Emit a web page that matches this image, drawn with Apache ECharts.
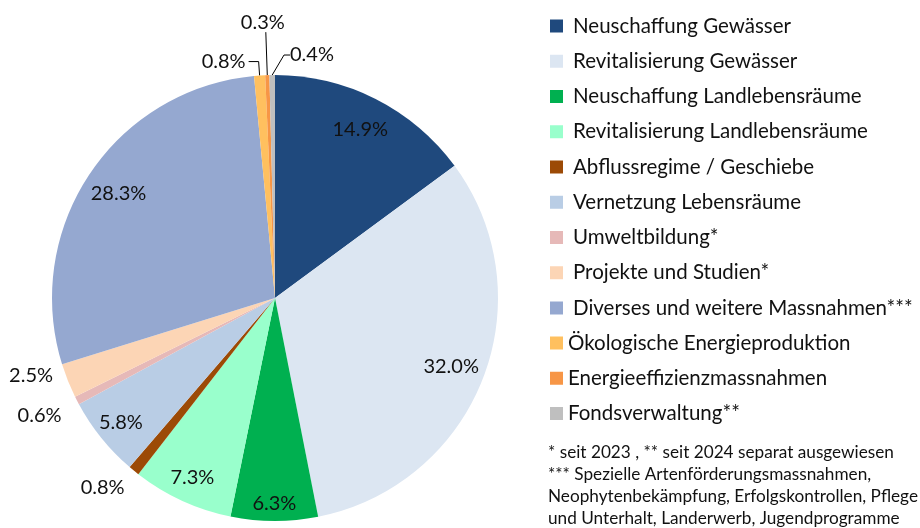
<!DOCTYPE html>
<html>
<head>
<meta charset="utf-8">
<script src="https://cdn.jsdelivr.net/npm/echarts@6/dist/echarts.min.js"></script>
<style>
  html, body { margin: 0; padding: 0; background: #fff; }
  #main { width: 920px; height: 528px; }
</style>
</head>
<body>
<div id="main"></div>
<script>
var categories = [
  'Neuschaffung Gewässer',
  'Revitalisierung Gewässer',
  'Neuschaffung Landlebensräume',
  'Revitalisierung Landlebensräume',
  'Abflussregime / Geschiebe',
  'Vernetzung Lebensräume',
  'Umweltbildung*',
  'Projekte und Studien*',
  'Diverses und weitere Massnahmen***',
  'Ökologische Energieproduktion',
  'Energieeffizienzmassnahmen',
  'Fondsverwaltung**'
];
var shares = [14.9, 32.0, 6.3, 7.3, 0.8, 5.8, 0.6, 2.5, 28.3, 0.8, 0.3, 0.4];
var colors = ['#1f497d', '#dce6f2', '#00b050', '#99ffcc', '#9c4a06', '#b9cde5',
  '#e6b9b8', '#fcd5b5', '#95a8d0', '#ffc05f', '#f79646', '#bfbfbf'];
var footnote = [
  '* seit 2023 , ** seit 2024 separat ausgewiesen',
  '*** Spezielle Artenförderungsmassnahmen,',
  'Neophytenbekämpfung, Erfolgskontrollen, Pflege',
  'und Unterhalt, Landerwerb, Jugendprogramme'
];

var font = 'Lato';
var textColor = '#111';
var center = [275, 298];
var R = 223;

// innen beschriftete Segmente: Abstand der Beschriftung vom Mittelpunkt
var innerRadius = { 0: 186, 1: 186, 8: 185, 3: 195, 5: 195, 2: 203 };

// kleine Anteile: Beschriftung aussen
var outerLabel = {
  4: { len: 10, len2: 0, line: false, dy: 9 },
  6: { len: 14, len2: 0, line: false, dy: 9 },
  7: { len: 2, len2: 10, line: false, dy: -6 },
  9: { len: 14, len2: 10, line: true },
  10: { len: 43, len2: 0, line: true },
  11: { len: 20, len2: 6, line: true }
};

var pct = function (p) { return p.value.toFixed(1) + '%'; };

var chart = echarts.init(document.getElementById('main'));

var mainData = categories.map(function (name, i) {
  var o = outerLabel[i];
  var item = { name: name, value: shares[i], itemStyle: { color: colors[i] } };
  if (o) {
    item.label = { show: true };
    item.labelLine = { show: o.line, length: o.len, length2: o.len2 };
  } else {
    item.label = { show: false };
    item.labelLine = { show: false };
  }
  return item;
});

var series = [
  {
    type: 'pie',
    center: center,
    radius: R,
    startAngle: 90,
    clockwise: true,
    avoidLabelOverlap: false,
    data: mainData,
    label: {
      position: 'outside',
      formatter: pct,
      fontFamily: font,
      fontSize: 20,
      color: textColor,
      distanceToLabelLine: 3
    },
    labelLine: { lineStyle: { color: '#000', width: 1 } },
    labelLayout: function (p) {
      var o = outerLabel[p.dataIndex];
      if (p.dataIndex === 10) return { align: 'center', verticalAlign: 'bottom' };
      if (p.dataIndex === 11) return { x: p.rect.x + p.rect.width + 15, align: 'left' };
      if (o && o.dy) return { dy: o.dy };
    },
    emphasis: { disabled: true }
  }
];

// transparente Ringe nur fuer die Innenbeschriftungen
var rings = {};
Object.keys(innerRadius).forEach(function (k) {
  var r = innerRadius[k];
  (rings[r] = rings[r] || []).push(+k);
});
Object.keys(rings).forEach(function (r) {
  var idx = rings[r];
  series.push({
    type: 'pie',
    center: center,
    radius: [2 * r - R, R],
    startAngle: 90,
    clockwise: true,
    silent: true,
    itemStyle: { color: 'rgba(0,0,0,0)' },
    data: categories.map(function (name, i) {
      return { name: name, value: shares[i], label: { show: idx.indexOf(i) >= 0 } };
    }),
    label: { position: 'inside', formatter: pct, fontFamily: font, fontSize: 20, color: textColor },
    labelLine: { show: false },
    emphasis: { disabled: true }
  });
});

var legendText = { fontFamily: font, fontSize: 20.5, color: textColor, lineHeight: 22 };

var option = {
  animation: false,
  color: colors,
  textStyle: { fontFamily: font },
  title: {
    text: footnote.join('\n'),
    left: 548,
    top: 441,
    padding: 0,
    textStyle: { fontFamily: font, fontSize: 17.2, fontWeight: 'normal', color: textColor, lineHeight: 22 }
  },
  legend: [
    {
      orient: 'vertical',
      left: 550,
      top: 15,
      padding: 0,
      itemWidth: 13,
      itemHeight: 13,
      itemGap: 13.25,
      icon: 'rect',
      textStyle: Object.assign({ padding: [0, 0, 0, 5] }, legendText),
      data: categories.slice(0, 9)
    },
    {
      orient: 'vertical',
      left: 550,
      top: 332,
      padding: 0,
      itemWidth: 13,
      itemHeight: 13,
      itemGap: 13.25,
      icon: 'rect',
      textStyle: legendText,
      data: categories.slice(9)
    }
  ],
  series: series
};

chart.setOption(option);
</script>
</body>
</html>
